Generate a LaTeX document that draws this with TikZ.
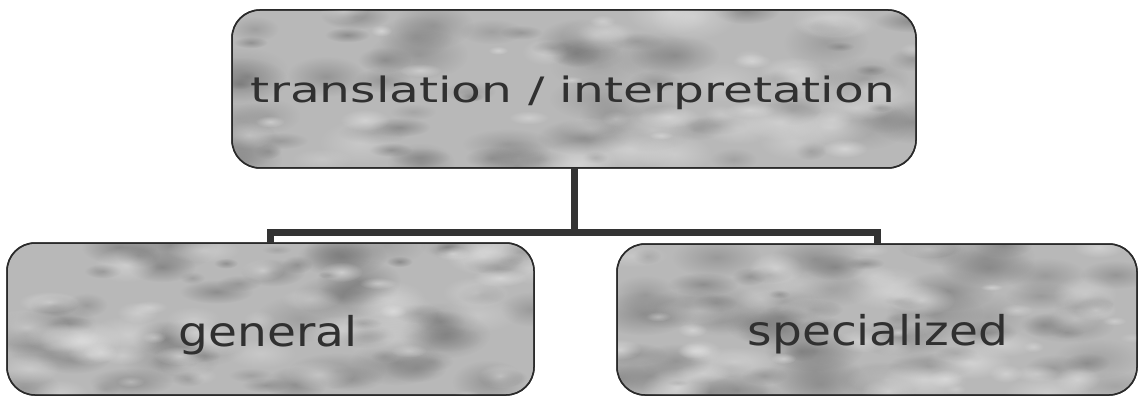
\documentclass[tikz,border=0pt]{standalone}
\usepackage{fontspec}
\setmainfont{DejaVu Sans}
\usetikzlibrary{fadings,calc}
\definecolor{boxfill}{HTML}{B8B8B8}
\definecolor{blobdark}{HTML}{747474}
\definecolor{bloblight}{HTML}{E2E2E2}
\definecolor{edge}{HTML}{2A2A2A}
\definecolor{txt}{HTML}{303030}
\definecolor{conncol}{HTML}{333333}
\tikzfading[name=softblob, inner color=transparent!0, outer color=transparent!100]
\newcommand\mottle[4]{%
  \begin{scope}
    \clip[rounded corners=28pt] (#1,#2) rectangle (#3,#4);
    \foreach \k in {1,...,70}{%
      \pgfmathsetmacro\u{#1+rnd*(#3-#1)}%
      \pgfmathsetmacro\v{#2+rnd*(#4-#2)}%
      \pgfmathsetmacro\ra{10+rnd*40}%
      \pgfmathsetmacro\rb{\ra*(0.3+rnd*0.3)}%
      \pgfmathsetmacro\op{0.25+rnd*0.45}%
      \fill[blobdark, opacity=\op, path fading=softblob] (\u,\v) ellipse ({\ra} and {\rb});
    }
    \foreach \k in {1,...,45}{%
      \pgfmathsetmacro\u{#1+rnd*(#3-#1)}%
      \pgfmathsetmacro\v{#2+rnd*(#4-#2)}%
      \pgfmathsetmacro\ra{10+rnd*35}%
      \pgfmathsetmacro\rb{\ra*(0.3+rnd*0.3)}%
      \pgfmathsetmacro\op{0.3+rnd*0.4}%
      \fill[bloblight, opacity=\op, path fading=softblob] (\u,\v) ellipse ({\ra} and {\rb});
    }
  \end{scope}}
\tikzset{
  box/.style={rectangle, rounded corners=28pt, fill=boxfill, draw=edge,
    line width=1.5pt, inner sep=0pt, outer sep=0pt},
  lbl/.style={inner sep=0pt, text=txt},
  conn/.style={draw=conncol, line width=7pt, line join=miter},
}
\begin{document}
\begin{tikzpicture}[x={(1pt,0pt)}, y={(0pt,-1pt)}]
\useasboundingbox[fill=white] (0,0) rectangle (1139,398);
\pgfmathsetseed{23}
% boxes
\node[box, minimum width=684pt, minimum height=158pt] (top) at (574,89) {};
\node[box, minimum width=527pt, minimum height=152pt] (gen) at (270.5,319) {};
\node[box, minimum width=520pt, minimum height=151pt] (spec) at (877,319.5) {};
\mottle{232}{10}{916}{168}
\mottle{7}{243}{534}{395}
\mottle{617}{244}{1137}{395}
% redraw borders above the texture
\draw[edge, line width=1.5pt, rounded corners=28pt] (top.north west) rectangle (top.south east);
\draw[edge, line width=1.5pt, rounded corners=28pt] (gen.north west) rectangle (gen.south east);
\draw[edge, line width=1.5pt, rounded corners=28pt] (spec.north west) rectangle (spec.south east);
% connectors
\coordinate (hub) at (574,232);
\draw[conn] (top.south) -- (hub);
\draw[conn] ($(hub)+(3.5,0)$) -| (gen.north);
\draw[conn] ($(hub)-(3.5,0)$) -| (spec.north);
% labels
\node[lbl, anchor=base] (toplbl) at (573,103)
  {\fontsize{35}{40}\selectfont\scalebox{1.39}[1]{translation / interpretation}};
\node[lbl, anchor=base] (genlbl) at (268,346)
  {\fontsize{41}{46}\selectfont\scalebox{1.146}[1]{general}};
\node[lbl, anchor=base] (speclbl) at (878,345)
  {\fontsize{41}{46}\selectfont\scalebox{1.146}[1]{specialized}};
\end{tikzpicture}
\end{document}
